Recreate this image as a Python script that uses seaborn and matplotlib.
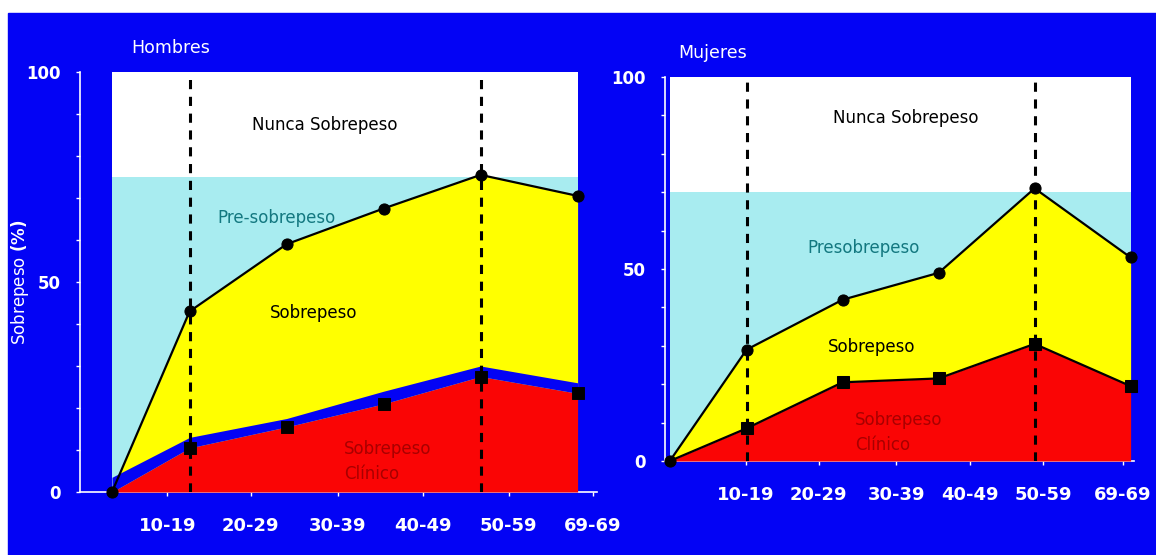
import matplotlib
matplotlib.use("Agg")
import matplotlib.pyplot as plt
from matplotlib.patches import Rectangle
import seaborn as sns

# --- datos ---
edad = [0, 8, 18, 28, 38, 48]
grupos = ["10-19", "20-29", "30-39", "40-49", "50-59", "69-69"]

hombres_sobrepeso = [0, 43, 59, 67.5, 75.5, 70.5]
hombres_clinico = [0, 10.5, 15.5, 21, 27.5, 23.5]
hombres_banda = [3.5, 13, 17.5, 24, 30, 26]
hombres_pre = 75

mujeres_sobrepeso = [0, 29, 42, 49, 71, 53]
mujeres_clinico = [0, 8.5, 20.5, 21.5, 30.5, 19.5]
mujeres_pre = 70

lineas_guia = [8, 38]

AZUL = "#0303F5"
CIAN = "#A8ECF0"
AMARILLO = "#FFFF00"
ROJO = "#FA0505"

sns.set_theme(style="white")
plt.rcParams["font.family"] = ["DejaVu Sans"]

fig = plt.figure(figsize=(11.56, 5.55), dpi=100)
fig.patch.set_facecolor("white")
fig.patches.append(Rectangle((8 / 1156, 0), 1, 542 / 555, transform=fig.transFigure,
                             color=AZUL, zorder=-5))

ax1 = fig.add_axes([80 / 1156, 63 / 555, 517 / 1156, 420 / 555])
ax2 = fig.add_axes([665 / 1156, 94 / 555, 468.5 / 1156, 384 / 555])


def panel(ax, sobrepeso, clinico, pre, banda=None):
    ax.set_facecolor(AZUL)
    ax.fill_between(edad, 0, 100, color="white", lw=0, zorder=1)
    ax.fill_between(edad, 0, pre, color=CIAN, lw=0, zorder=1)
    ax.fill_between(edad, clinico, sobrepeso, color=AMARILLO, lw=0, zorder=1.2)
    ax.fill_between(edad, 0, clinico, color=ROJO, lw=0, zorder=1.3)
    if banda is not None:
        ax.fill_between(edad, clinico, banda, color=AZUL, lw=0, zorder=1.4)
    for x in lineas_guia:
        ax.axvline(x, color="black", lw=2.2, ls=(0, (3, 2.5)), zorder=2)

    sns.lineplot(x=edad, y=sobrepeso, ax=ax, color="black", lw=1.6, marker="o",
                 markersize=8, markeredgecolor="black", clip_on=False, zorder=4)
    if banda is None:
        sns.lineplot(x=edad[1:], y=clinico[1:], ax=ax, color="black", lw=1.6, marker="s",
                     markersize=8, markeredgecolor="black", clip_on=False, zorder=4)
        sns.lineplot(x=edad[:2], y=clinico[:2], ax=ax, color="black", lw=1.6, zorder=4)
    else:
        sns.scatterplot(x=edad[1:], y=clinico[1:], ax=ax, color="black", marker="s",
                        s=70, edgecolor="black", clip_on=False, zorder=4)

    ax.set_ylim(0, 100)
    ax.set_yticks([0, 50, 100])
    ax.set_yticks(range(0, 101, 10), minor=True)
    for s in ["top", "right"]:
        ax.spines[s].set_visible(False)
    for s in ["left", "bottom"]:
        ax.spines[s].set_color("white")
        ax.spines[s].set_linewidth(1.2)
        ax.spines[s].set_zorder(0.5)
    ax.tick_params(axis="both", which="both", colors="white", direction="out",
                   length=3, width=1, left=True, bottom=True)
    ax.tick_params(axis="x", labelsize=13, pad=15)
    ax.tick_params(axis="y", labelsize=12, pad=11)


panel(ax1, hombres_sobrepeso, hombres_clinico, hombres_pre, hombres_banda)
panel(ax2, mujeres_sobrepeso, mujeres_clinico, mujeres_pre)

ax1.set_xlim(-3.3, 50.0)
ax1.set_xticks([5.7, 14.3, 23.3, 32.1, 40.9, 49.6])
ax1.set_xticklabels(grupos)
ax2.set_xlim(-0.5, 48.3)
ax2.set_xticks([7.9, 15.5, 23.6, 31.3, 38.9, 47.2])
ax2.set_xticklabels(grupos)

for ax in (ax1, ax2):
    for lab in ax.get_xticklabels() + ax.get_yticklabels():
        lab.set_fontweight("bold")

ax1.set_ylabel(r"Sobrepeso $\mathbf{(\%)}$", color="white", fontsize=12)
ax1.yaxis.set_label_coords(-0.095, 0.5)

# titulos de panel
ax1.text(0.10, 1.057, "Hombres", transform=ax1.transAxes, color="white",
         fontsize=12.5, ha="left", va="center")
ax2.text(0.028, 1.0625, "Mujeres", transform=ax2.transAxes, color="white",
         fontsize=12.5, ha="left", va="center")

# etiquetas de zonas
ax1.text(14.4, 87.4, "Nunca Sobrepeso", color="black", fontsize=12, va="center", zorder=5)
ax1.text(10.9, 65.2, "Pre-sobrepeso", color="#137880", fontsize=12, va="center", zorder=5)
ax1.text(16.3, 42.6, "Sobrepeso", color="black", fontsize=12, va="center", zorder=5)
ax1.text(23.9, 7.3, "Sobrepeso\nClínico", color="#A80000", fontsize=12, va="center",
         linespacing=1.5, zorder=5)

ax2.text(17.0, 89.3, "Nunca Sobrepeso", color="black", fontsize=12, va="center", zorder=5)
ax2.text(14.3, 55.5, "Presobrepeso", color="#137880", fontsize=12, va="center", zorder=5)
ax2.text(16.5, 29.7, "Sobrepeso", color="black", fontsize=12, va="center", zorder=5)
ax2.text(19.3, 7.4, "Sobrepeso\nClínico", color="#A80000", fontsize=12, va="center",
         linespacing=1.5, zorder=5)

fig.savefig("out.png", dpi=100, facecolor=fig.get_facecolor())
